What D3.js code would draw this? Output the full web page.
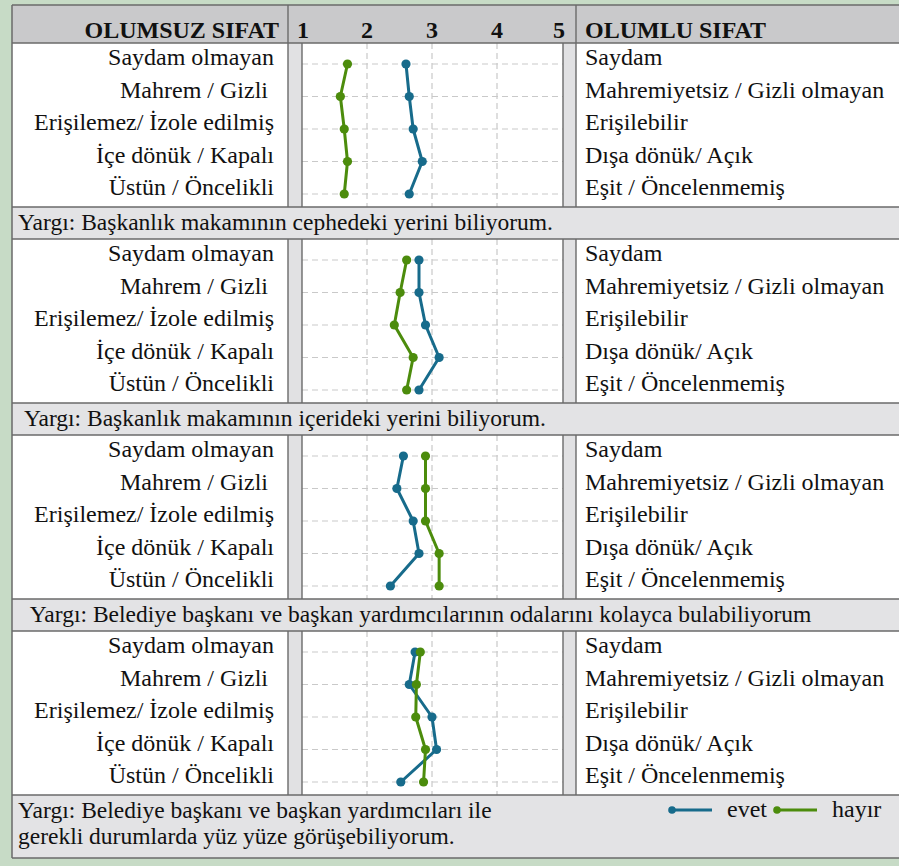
<!DOCTYPE html>
<html><head><meta charset="utf-8">
<script src="https://cdn.jsdelivr.net/npm/d3@7"></script>
</head>
<body style="margin:0"><svg id="c" width="899" height="866"></svg>
<script>
const leftLabels = ["Saydam olmayan","Mahrem / Gizli ","Erişilemez/ İzole edilmiş","İçe dönük / Kapalı","Üstün / Öncelikli"];
const rightLabels = ["Saydam","Mahremiyetsiz / Gizli olmayan","Erişilebilir","Dışa dönük/ Açık","Eşit / Öncelenmemiş"];
const tickValues = [1,2,3,4,5];
const evet = [
  [2.60,2.65,2.71,2.85,2.65],
  [2.80,2.80,2.90,3.11,2.80],
  [2.56,2.46,2.71,2.80,2.36],
  [2.74,2.65,3.00,3.07,2.52]
];
const hayir = [
  [1.70,1.59,1.65,1.70,1.65],
  [2.61,2.51,2.42,2.71,2.61],
  [2.90,2.90,2.90,3.11,3.11],
  [2.82,2.76,2.75,2.90,2.87]
];
const yargi = [
  ["Yargı: Başkanlık makamının cephedeki yerini biliyorum."],
  [" Yargı: Başkanlık makamının içerideki yerini biliyorum."],
  ["  Yargı: Belediye başkanı ve başkan yardımcılarının odalarını kolayca bulabiliyorum"],
  ["Yargı: Belediye başkanı ve başkan yardımcıları ile","gerekli durumlarda yüz yüze görüşebiliyorum."]
];
const seriesNames = ["evet","hayır"];
const colors = {"evet":"#176b8b","hayır":"#4c8c0c"};

const svg = d3.select("#c");
const W = 899, H = 866;
const L = 12, R = 905, T = 5;
const headerH = 38, panelH = 164, yargiH = 32;
const xDiv1 = 288, xDiv2 = 576, xBand2 = 563;
const x = d3.scaleLinear().domain([1,5]).range([302,562]);
const border = "#6a6a6a";
const FS = 24, FF = '"Liberation Serif"';
const keep = s => s.replace(/^ +| +$/g, m => "\u00A0".repeat(m.length));
function txt(sel){ return sel.attr("font-family",FF).attr("font-size",FS).attr("fill","#111"); }

svg.append("rect").attr("width",W).attr("height",H).attr("fill","#c7dbc6");
svg.append("rect").attr("x",L).attr("y",T).attr("width",R-L).attr("height",headerH).attr("fill","#c9c9cb");
txt(svg.append("text")).attr("x",279).attr("y",T+33).attr("text-anchor","end").attr("font-weight","bold").text("OLUMSUZ SIFAT");
txt(svg.append("text")).attr("x",585).attr("y",T+33).attr("font-weight","bold").text("OLUMLU SIFAT");
txt(svg.selectAll("text.tick").data(tickValues).join("text").attr("class","tick"))
  .attr("x",d=>x(d) + (d===1?1:(d===5?-3:0))).attr("y",T+33).attr("text-anchor","middle")
  .attr("font-weight","bold").text(d=>d);

let cur = T + headerH;
const hLines = [T, cur];
for (let p = 0; p < 4; p++) {
  const g = svg.append("g");
  const pt = cur;
  g.append("rect").attr("x",L).attr("y",pt).attr("width",R-L).attr("height",panelH).attr("fill","#fff");
  g.append("rect").attr("x",xDiv1).attr("y",pt).attr("width",x(1)-xDiv1).attr("height",panelH).attr("fill","#e1e1e3");
  g.append("rect").attr("x",xBand2).attr("y",pt).attr("width",xDiv2-xBand2).attr("height",panelH).attr("fill","#e1e1e3");
  const y = d3.scalePoint().domain(d3.range(leftLabels.length)).range([pt+21, pt+151]);
  g.selectAll("line.vg").data(tickValues.slice(1,4)).join("line")
    .attr("x1",d=>x(d)).attr("x2",d=>x(d)).attr("y1",pt).attr("y2",pt+panelH)
    .attr("stroke","#c9c9c9").attr("stroke-width",1.2).attr("stroke-dasharray","6,4");
  g.selectAll("line.hg").data(d3.range(leftLabels.length)).join("line")
    .attr("x1",x(1)).attr("x2",xBand2).attr("y1",d=>y(d)).attr("y2",d=>y(d))
    .attr("stroke","#c9c9c9").attr("stroke-width",1.2).attr("stroke-dasharray","6,4");
  txt(g.selectAll("text.l").data(leftLabels).join("text"))
    .attr("x",274).attr("y",(d,i)=>y(i)+1).attr("text-anchor","end").text(d=>keep(d));
  txt(g.selectAll("text.r").data(rightLabels).join("text"))
    .attr("x",585).attr("y",(d,i)=>y(i)+1).text(d=>keep(d));
  const data = [evet[p], hayir[p]];
  data.forEach((vals, s) => {
    const c = colors[seriesNames[s]];
    const line = d3.line().x(d=>x(d)).y((d,i)=>y(i));
    g.append("path").attr("d",line(vals)).attr("fill","none").attr("stroke",c).attr("stroke-width",3).attr("stroke-linejoin","round");
    g.selectAll(null).data(vals).join("circle").attr("cx",d=>x(d)).attr("cy",(d,i)=>y(i)).attr("r",4.6).attr("fill",c);
  });
  [xDiv1, x(1), xBand2, xDiv2].forEach(xx => {
    g.append("line").attr("x1",xx).attr("x2",xx).attr("y1",pt).attr("y2",pt+panelH).attr("stroke",border).attr("stroke-width",1.4);
  });
  cur += panelH;
  hLines.push(cur);
  const yh = p === 3 ? 63 : yargiH;
  svg.append("rect").attr("x",L).attr("y",cur).attr("width",R-L).attr("height",yh).attr("fill","#e3e3e5");
  yargi[p].forEach((t, k) => {
    txt(svg.append("text")).attr("font-size",23.5).attr("x",18).attr("y",cur+23+k*26).text(keep(t));
  });
  cur += yh;
  hLines.push(cur);
}
[xDiv1, xDiv2].forEach(xx => svg.append("line").attr("x1",xx).attr("x2",xx).attr("y1",T).attr("y2",T+headerH).attr("stroke",border).attr("stroke-width",1.4));
hLines.forEach(yy => svg.append("line").attr("x1",L).attr("x2",R).attr("y1",yy).attr("y2",yy).attr("stroke",border).attr("stroke-width",1.5));
svg.append("line").attr("x1",L).attr("x2",L).attr("y1",T).attr("y2",cur).attr("stroke",border).attr("stroke-width",1.5);

const legendY = 810;
const lg = svg.append("g");
const legendItems = [{name:"evet", x0:672}, {name:"hayır", x0:777}];
legendItems.forEach(it => {
  const c = colors[it.name];
  lg.append("line").attr("x1",it.x0).attr("x2",it.x0+40).attr("y1",legendY).attr("y2",legendY).attr("stroke",c).attr("stroke-width",3);
  lg.append("circle").attr("cx",it.x0).attr("cy",legendY).attr("r",3.8).attr("fill",c);
  txt(lg.append("text")).attr("x",it.x0+55).attr("y",legendY+7).text(it.name);
});
</script></body></html>
